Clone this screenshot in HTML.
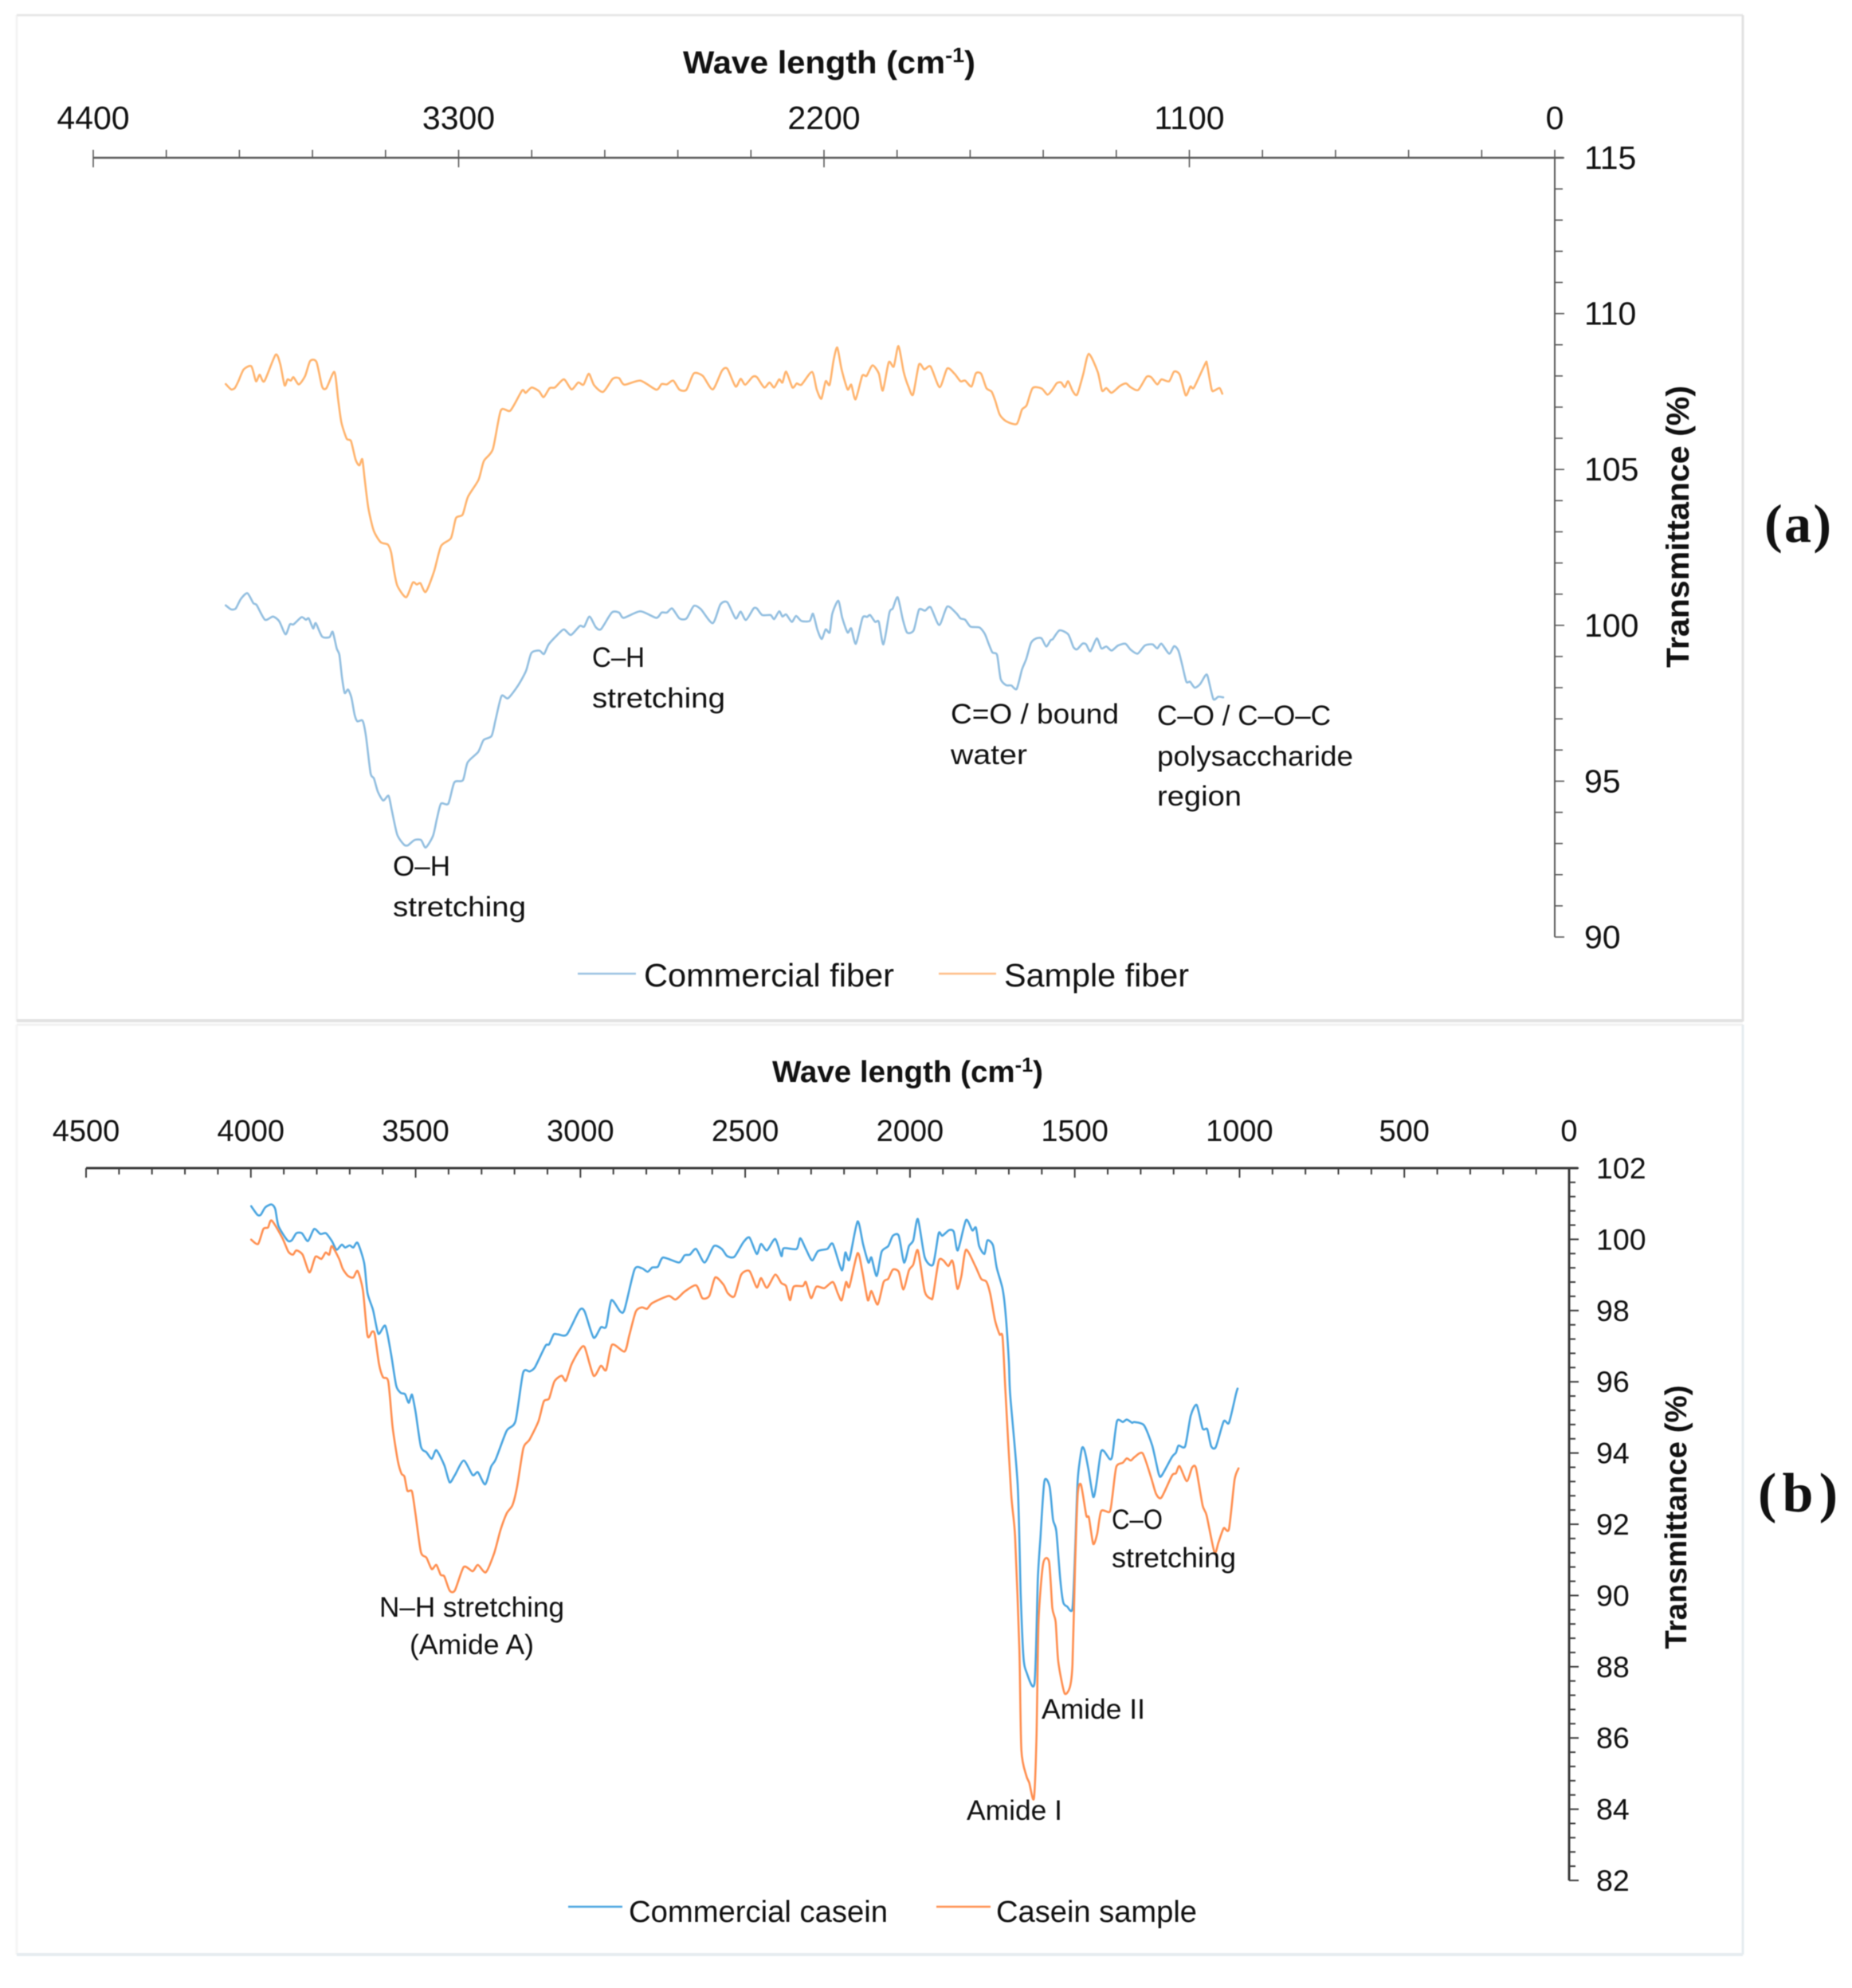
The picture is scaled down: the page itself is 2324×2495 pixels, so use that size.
<!DOCTYPE html>
<html lang="en">
<head>
<meta charset="utf-8">
<title>FTIR transmittance spectra</title>
<style>
html,body{margin:0;padding:0;background:#fff;}
body{width:2324px;height:2495px;overflow:hidden;}
svg{display:block;filter:blur(0.6px);}
text{fill:#111;font-family:"Liberation Sans",Arial,sans-serif;}
.note{font-size:35px;fill:#111;}
.tick-x-a,.tick-y-a{font-size:41px;}
.tick-x-b{font-size:38px;}
.tick-y-b{font-size:37.5px;}
.legend{font-size:41px;}
.legend-b{font-size:38px;}
</style>
</head>
<body>
<svg id="figure" xmlns="http://www.w3.org/2000/svg" width="2324" height="2495" viewBox="0 0 2324 2495">
  <rect x="0" y="0" width="2324" height="2495" fill="#ffffff"/>
  <g stroke-width="3" fill="none">
    <line x1="21" y1="19" x2="21" y2="1282" stroke="#f4f4f4"/>
    <line x1="21" y1="19" x2="2187" y2="19" stroke="#e8e8e8"/>
    <line x1="2187" y1="19" x2="2187" y2="1282" stroke="#e2e2e2"/>
    <line x1="21" y1="1281" x2="2187" y2="1281" stroke="#e2e2e2" stroke-width="4"/>
  </g>
  <g stroke-width="3" fill="none">
    <line x1="21" y1="1286" x2="21" y2="2453" stroke="#f6f6f6"/>
    <line x1="21" y1="1286" x2="2187" y2="1286" stroke="#f2f2f2"/>
    <line x1="2187" y1="1286" x2="2187" y2="2453" stroke="#e6ecf0"/>
    <line x1="21" y1="2453" x2="2187" y2="2453" stroke="#e6ecf0" stroke-width="4"/>
  </g>
  <g id="panel-a"></g>
  <g id="panel-b"></g>

  <text x="857" y="92" font-size="40" font-weight="700" textLength="367" lengthAdjust="spacingAndGlyphs">Wave length (cm<tspan font-size="26" dy="-14">-1</tspan><tspan dy="14">)</tspan></text>
  <text transform="translate(2119,661) rotate(-90)" text-anchor="middle" font-size="40" font-weight="700" textLength="354" lengthAdjust="spacingAndGlyphs">Transmittance (%)</text>
  <text x="2214" y="680" style="font-family:'Liberation Serif',serif" font-size="68" font-weight="700" textLength="84" lengthAdjust="spacing">(a)</text>

  <text class="note" x="493" y="1099" textLength="72" lengthAdjust="spacingAndGlyphs">O–H</text>
  <text class="note" x="493" y="1150" textLength="167" lengthAdjust="spacingAndGlyphs">stretching</text>
  <text class="note" x="743" y="837" textLength="66" lengthAdjust="spacingAndGlyphs">C–H</text>
  <text class="note" x="743" y="888" textLength="167" lengthAdjust="spacingAndGlyphs">stretching</text>
  <text class="note" x="1193" y="908" textLength="211" lengthAdjust="spacingAndGlyphs">C=O / bound</text>
  <text class="note" x="1193" y="959" textLength="96" lengthAdjust="spacingAndGlyphs">water</text>
  <text class="note" x="1452" y="910" textLength="218" lengthAdjust="spacingAndGlyphs">C–O / C–O–C</text>
  <text class="note" x="1452" y="961" textLength="246" lengthAdjust="spacingAndGlyphs">polysaccharide</text>
  <text class="note" x="1452" y="1011" textLength="106" lengthAdjust="spacingAndGlyphs">region</text>

  <line x1="725" y1="1222" x2="798" y2="1222" stroke="#9cc3e2" stroke-width="2.5"/>
  <text class="legend" x="808" y="1238" textLength="314" lengthAdjust="spacingAndGlyphs">Commercial fiber</text>
  <line x1="1178" y1="1222" x2="1250" y2="1222" stroke="#ffbe88" stroke-width="2.5"/>
  <text class="legend" x="1260" y="1238" textLength="232" lengthAdjust="spacingAndGlyphs">Sample fiber</text>

  <text x="969" y="1358" font-size="38" font-weight="700" textLength="340" lengthAdjust="spacingAndGlyphs">Wave length (cm<tspan font-size="25" dy="-13">-1</tspan><tspan dy="13">)</tspan></text>
  <text transform="translate(2116,1904) rotate(-90)" text-anchor="middle" font-size="38" font-weight="700" textLength="331" lengthAdjust="spacingAndGlyphs">Transmittance (%)</text>
  <text x="2206" y="1897" style="font-family:'Liberation Serif',serif" font-size="70" font-weight="700" textLength="100" lengthAdjust="spacing">(b)</text>

  <text class="note" x="476" y="2029" textLength="232" lengthAdjust="spacingAndGlyphs">N–H stretching</text>
  <text class="note" x="514" y="2076" textLength="156" lengthAdjust="spacingAndGlyphs">(Amide A)</text>
  <text class="note" x="1395" y="1919" textLength="64" lengthAdjust="spacingAndGlyphs">C–O</text>
  <text class="note" x="1395" y="1967" textLength="156" lengthAdjust="spacingAndGlyphs">stretching</text>
  <text class="note" x="1307" y="2157" textLength="130" lengthAdjust="spacingAndGlyphs">Amide II</text>
  <text class="note" x="1213" y="2284" textLength="120" lengthAdjust="spacingAndGlyphs">Amide I</text>

  <line x1="713" y1="2393" x2="781" y2="2393" stroke="#4aa5e0" stroke-width="2.5"/>
  <text class="legend-b" x="789" y="2412" textLength="325" lengthAdjust="spacingAndGlyphs">Commercial casein</text>
  <line x1="1175" y1="2393" x2="1243" y2="2393" stroke="#ff9050" stroke-width="2.5"/>
  <text class="legend-b" x="1250" y="2412" textLength="252" lengthAdjust="spacingAndGlyphs">Casein sample</text>
</svg>

<script>
/* ---------- Panel (a) data ---------- */
const fiberXTickLabels = [4400, 3300, 2200, 1100, 0];
const fiberYTickLabels = [115, 110, 105, 100, 95, 90];

const sampleFiberWave = [4001,3985,3974,3963,3947,3924,3910,3899,3885,3851,3837,3824,3815,3805,3797,3781,3762,3747,3728,3711,3698,3674,3663,3653,3637,3624,3610,3599,3590,3583,3572,3556,3535,3513,3503,3494,3484,3458,3438,3426,3415,3399,3374,3353,3323,3308,3288,3272,3240,3224,3197,3173,3144,3109,3098,3080,3058,3044,3026,3010,2983,2960,2940,2924,2908,2892,2865,2836,2817,2801,2753,2705,2689,2673,2654,2635,2614,2592,2565,2535,2507,2491,2466,2451,2437,2415,2402,2380,2364,2350,2335,2325,2314,2295,2282,2268,2236,2222,2208,2195,2183,2171,2160,2147,2129,2118,2105,2085,2072,2054,2035,2023,2005,1990,1976,1960,1946,1932,1914,1898,1879,1852,1829,1807,1789,1775,1756,1743,1727,1711,1695,1684,1671,1652,1620,1604,1590,1572,1545,1527,1513,1499,1486,1475,1465,1451,1438,1420,1403,1376,1363,1350,1334,1309,1291,1277,1254,1229,1215,1197,1184,1161,1146,1129,1111,1097,1086,1052,1047,1033,1025,1009,1001];
const sampleFiberT = [107.74,107.57,107.61,107.83,108.21,108.31,107.83,108.04,107.83,108.68,108.38,107.70,107.89,107.85,107.96,107.73,108.00,108.48,108.45,107.66,107.61,108.13,107.27,106.51,105.99,105.91,105.31,105.13,105.33,104.72,103.78,103.05,102.67,102.59,102.33,101.73,101.26,100.90,101.37,101.31,101.35,101.07,101.73,102.54,102.80,103.44,103.55,104.12,104.67,105.27,105.65,106.89,106.89,107.53,107.46,107.63,107.51,107.32,107.61,107.63,107.89,107.57,107.79,107.72,108.07,107.70,107.49,107.91,107.93,107.72,107.85,107.56,107.74,107.73,107.85,107.56,107.56,108.08,108.00,107.57,108.17,108.23,107.66,107.91,107.72,107.97,107.96,107.63,107.79,107.63,107.89,107.79,108.14,107.63,107.76,107.72,108.13,107.57,107.27,107.83,107.72,108.51,108.91,108.21,107.57,107.72,107.25,108.0,108.0,108.34,108.08,107.53,108.44,108.30,108.96,108.13,107.66,107.40,108.37,108.21,108.30,107.64,108.24,108.07,107.83,107.85,107.66,108.08,108.07,107.61,107.49,107.19,106.76,106.55,106.46,106.92,107.06,107.61,107.6,107.40,107.55,107.77,107.79,107.64,107.83,107.51,107.40,108.04,108.71,108.13,107.53,107.61,107.46,107.68,107.76,107.64,107.55,107.97,107.96,107.73,107.89,107.83,108.14,108.04,107.38,107.66,107.63,108.40,108.38,107.57,107.53,107.61,107.43];

const commercialFiberWave = [4001,3985,3971,3956,3936,3918,3908,3883,3859,3840,3821,3808,3797,3773,3760,3751,3738,3730,3711,3689,3679,3667,3659,3651,3643,3633,3623,3613,3605,3589,3579,3565,3555,3543,3527,3511,3501,3485,3465,3453,3433,3413,3399,3377,3365,3353,3331,3313,3287,3273,3241,3225,3201,3189,3171,3151,3121,3097,3081,3057,3043,3029,3003,2983,2962,2935,2922,2906,2887,2871,2839,2817,2803,2753,2705,2689,2673,2657,2635,2614,2592,2571,2535,2512,2491,2466,2451,2435,2412,2402,2386,2361,2350,2335,2325,2314,2297,2284,2268,2243,2233,2220,2207,2195,2183,2175,2157,2145,2129,2118,2104,2084,2070,2061,2046,2035,2021,2003,1993,1978,1963,1950,1930,1914,1896,1879,1853,1829,1802,1789,1775,1759,1732,1716,1705,1693,1679,1668,1652,1636,1620,1604,1591,1577,1561,1545,1531,1518,1511,1491,1465,1449,1438,1422,1411,1398,1379,1365,1350,1334,1315,1293,1277,1256,1234,1211,1197,1184,1161,1146,1133,1122,1109,1098,1084,1068,1052,1045,1028,1013,998];
const commercialFiberT = [100.64,100.51,100.54,100.84,101.03,100.71,100.65,100.18,100.28,100.13,99.71,100.03,100.03,100.26,100.18,100.22,99.90,100.07,99.64,99.62,99.79,99.26,99.05,98.32,97.83,97.94,97.69,97.13,96.92,96.94,96.45,95.26,95.09,94.66,94.38,94.53,94.06,93.29,92.97,92.94,93.11,93.11,92.87,93.25,93.81,94.28,94.28,94.96,95.03,95.6,95.94,96.32,96.45,96.96,97.73,97.66,98.07,98.54,99.11,99.19,99.08,99.39,99.69,99.87,99.69,99.98,99.96,100.28,99.94,99.88,100.41,100.41,100.24,100.45,100.24,100.41,100.41,100.54,100.22,100.22,100.62,100.52,100.07,100.67,100.74,100.22,100.44,100.17,100.54,100.54,100.33,100.33,100.20,100.45,100.28,100.35,100.11,100.30,100.14,100.14,100.37,99.86,99.56,99.87,99.77,100.37,100.79,100.24,99.77,99.90,99.41,100.24,100.27,100.33,100.11,100.11,99.39,100.41,100.54,100.90,100.20,99.77,99.84,100.50,100.47,100.58,100.01,100.60,100.39,100.22,100.18,99.96,99.93,99.73,99.43,99.13,99.05,98.28,98.08,98.07,97.96,98.58,98.92,99.43,99.58,99.58,99.32,99.52,99.56,99.84,99.71,99.30,99.23,99.41,99.39,99.17,99.58,99.26,99.32,99.19,99.35,99.41,99.22,99.09,99.35,99.39,99.26,99.41,99.09,99.33,99.19,98.75,98.19,98.19,98.0,98.11,98.39,98.37,97.64,97.71,97.69];

/* ---------- Panel (b) data ---------- */
const caseinXTickLabels = [4500, 4000, 3500, 3000, 2500, 2000, 1500, 1000, 500, 0];
const caseinYTickLabels = [102, 100, 98, 96, 94, 92, 90, 88, 86, 84, 82];

const commercialCaseinWave = [3999,3980,3970,3956,3937,3926,3916,3889,3876,3862,3845,3827,3808,3789,3772,3754,3740,3724,3714,3700,3689,3676,3656,3646,3629,3613,3592,3575,3559,3545,3532,3521,3511,3500,3484,3467,3451,3437,3413,3397,3381,3354,3327,3311,3289,3271,3257,3224,3197,3174,3154,3138,3106,3095,3081,3068,3041,3003,2987,2960,2938,2922,2906,2879,2866,2836,2814,2796,2782,2765,2749,2701,2684,2668,2649,2623,2595,2571,2555,2533,2506,2487,2465,2452,2434,2409,2390,2383,2344,2333,2316,2297,2279,2251,2234,2207,2196,2184,2159,2142,2126,2117,2101,2086,2066,2052,2034,2018,2003,1990,1976,1955,1930,1913,1902,1881,1867,1855,1830,1811,1800,1790,1774,1765,1748,1737,1719,1710,1700,1696,1673,1664,1656,1647,1622,1612,1604,1592,1576,1566,1556,1544,1535,1523,1507,1499,1491,1479,1471,1459,1444,1435,1421,1411,1394,1386,1372,1354,1342,1326,1319,1290,1265,1245,1236,1205,1193,1185,1165,1148,1130,1112,1098,1086,1072,1048,1032,1011,1006];
const commercialCaseinT = [100.93,100.69,100.69,100.90,100.98,100.85,100.37,99.97,99.97,100.17,100.17,99.95,100.29,100.15,100.17,99.95,99.71,99.85,99.77,99.83,99.77,99.90,99.33,98.49,98.01,97.35,97.57,96.81,95.89,95.69,95.65,95.41,95.64,95.14,94.18,94.02,93.84,94.08,93.66,93.18,93.38,93.79,93.38,93.46,93.12,93.62,93.82,94.62,94.90,96.25,96.29,96.41,97.01,97.05,97.33,97.33,97.33,98.01,97.97,97.24,97.53,97.55,98.29,97.97,98.03,99.15,99.19,99.09,99.21,99.23,99.49,99.35,99.55,99.57,99.73,99.35,99.81,99.73,99.53,99.51,99.91,100.05,99.59,99.87,99.69,100.01,99.53,99.75,99.73,100.03,99.73,99.41,99.67,99.73,99.87,99.13,99.63,99.43,100.50,99.85,99.35,99.49,98.97,99.65,99.81,100.10,100.10,99.35,99.81,99.97,100.57,99.49,99.29,100.17,100.10,100.26,100.21,99.69,100.54,100.25,100.33,99.81,99.59,99.97,99.83,99.21,98.61,97.93,96.57,95.65,93.09,90.05,88.30,87.86,87.54,90.45,91.65,93.21,93.05,92.13,91.81,90.45,89.81,89.69,89.64,91.25,93.25,94.11,94.09,93.57,92.77,93.09,94.01,94.05,93.83,93.93,94.89,94.87,94.94,94.85,94.87,94.78,94.21,93.41,93.37,93.89,94.01,94.21,94.19,95.05,95.35,94.69,94.67,94.19,94.17,94.89,94.85,95.65,95.81];

const caseinSampleWave = [3999,3978,3962,3948,3937,3905,3886,3872,3862,3843,3822,3804,3786,3773,3762,3754,3732,3721,3705,3689,3676,3660,3646,3632,3624,3611,3599,3583,3570,3554,3543,3534,3525,3511,3500,3484,3467,3451,3437,3424,3413,3397,3381,3354,3327,3311,3287,3262,3243,3224,3206,3192,3173,3154,3127,3111,3095,3079,3057,3044,3027,3003,2987,2960,2938,2922,2904,2866,2852,2832,2814,2798,2782,2733,2711,2684,2649,2630,2609,2591,2566,2553,2533,2512,2487,2465,2452,2434,2409,2390,2376,2364,2353,2325,2316,2300,2284,2260,2234,2219,2207,2194,2184,2159,2145,2128,2117,2098,2080,2066,2052,2034,2020,2003,1990,1976,1955,1936,1930,1913,1899,1884,1873,1867,1856,1844,1830,1802,1784,1768,1756,1742,1728,1719,1710,1693,1681,1668,1662,1647,1638,1624,1616,1610,1596,1578,1568,1558,1550,1531,1515,1507,1499,1491,1481,1465,1457,1444,1432,1420,1394,1386,1374,1354,1342,1330,1318,1294,1269,1253,1237,1205,1193,1182,1160,1144,1132,1112,1100,1076,1064,1048,1032,1015,1003];
const caseinSampleT = [99.99,99.87,100.29,100.33,100.53,100.05,99.65,99.57,99.69,99.57,99.07,99.51,99.45,99.63,99.57,99.81,99.45,99.17,98.97,98.93,99.11,98.57,97.29,97.41,97.33,96.49,96.13,96.01,94.74,93.78,93.42,93.34,92.94,92.92,92.26,91.22,91.06,90.74,90.86,90.58,90.54,90.14,90.14,90.80,90.68,90.86,90.65,91.18,91.82,92.30,92.54,93.06,94.14,94.38,94.90,95.45,95.53,96.01,96.17,96.03,96.49,96.89,96.97,96.17,96.45,96.33,97.04,96.85,97.29,97.97,98.09,98.05,98.21,98.41,98.31,98.53,98.71,98.35,98.41,98.93,98.73,98.49,98.40,99.01,99.11,98.65,98.91,98.64,99.01,98.77,98.69,98.29,98.67,98.69,98.80,98.35,98.67,98.63,98.80,98.48,98.29,98.80,98.67,99.61,99.13,98.29,98.55,98.17,98.80,98.89,99.15,99.09,98.59,99.13,99.29,99.69,98.53,98.33,98.41,99.39,99.41,99.25,99.41,99.25,98.61,98.97,99.71,99.25,98.89,98.81,98.45,97.73,97.33,97.25,95.69,92.85,91.65,88.46,85.66,84.94,84.74,84.30,86.06,89.26,90.89,90.95,89.65,89.26,88.14,87.26,87.42,88.06,90.85,92.85,93.11,92.25,92.19,91.45,91.73,92.37,92.35,92.77,93.61,93.73,93.85,93.79,93.89,93.99,93.33,92.85,92.75,93.37,93.43,93.63,93.21,93.59,93.57,92.53,92.25,91.21,91.49,91.89,91.87,93.25,93.57];

/* ---------- Axis functions ---------- */
const SVGNS = 'http://www.w3.org/2000/svg';
const xA = w => 1951 - (w / 4400) * (1951 - 117);
const yA = t => 198 + (115 - t) * (1176 - 198) / 25;
const xB = w => 1969 - (w / 4500) * (1969 - 108);
const yB = t => 1466 + (102 - t) * (2360 - 1466) / 20;

function mk(parent, tag, attrs, txt) {
  const n = document.createElementNS(SVGNS, tag);
  for (const k in attrs) n.setAttribute(k, attrs[k]);
  if (txt !== undefined) n.textContent = txt;
  parent.appendChild(n);
  return n;
}

function drawAxisLine(parent, name, x1, y1, x2, y2, stroke, width) {
  const l = mk(parent, 'line', {x1: x1, y1: y1, x2: x2, y2: y2, stroke: stroke, 'stroke-width': width});
  
  
  return l;
}

/* Smooth curve through every data point (Catmull-Rom to cubic Bezier). */
function smoothPath(px, py) {
  const k = 0.12;
  let d = 'M' + px[0].toFixed(1) + ' ' + py[0].toFixed(1);
  for (let i = 0; i < px.length - 1; i++) {
    const a = Math.max(i - 1, 0), c = i + 1, e = Math.min(i + 2, px.length - 1);
    const c1x = px[i] + (px[c] - px[a]) * k, c1y = py[i] + (py[c] - py[a]) * k;
    const c2x = px[c] - (px[e] - px[i]) * k, c2y = py[c] - (py[e] - py[i]) * k;
    d += 'C' + c1x.toFixed(1) + ' ' + c1y.toFixed(1) + ' ' + c2x.toFixed(1) + ' ' + c2y.toFixed(1) + ' ' + px[c].toFixed(1) + ' ' + py[c].toFixed(1);
  }
  return d;
}

function drawSeries(parent, name, xs, ys, fx, fy, color, width) {
  const p = mk(parent, 'path', {d: smoothPath(xs.map(fx), ys.map(fy)), fill: 'none', stroke: color, 'stroke-width': width, 'stroke-linejoin': 'round', 'stroke-linecap': 'round'});
  
  
}

function tickLabel(parent, name, x, y, cls, anchor, value) {
  const t = mk(parent, 'text', {x: x, y: y, class: cls, 'text-anchor': anchor}, String(value));
  
  
}

/* ---------- Panel (a) ---------- */
(function () {
  const g = document.getElementById('panel-a');
  const axisColor = '#5a5a5a';
  const xMax = fiberXTickLabels[0], yTop = fiberYTickLabels[0];
  const yBot = fiberYTickLabels[fiberYTickLabels.length - 1];
  drawAxisLine(g, 'panel-a-x-axis', xA(xMax), yA(yTop), 1962, yA(yTop), axisColor, 2.5);
  drawAxisLine(g, 'panel-a-y-axis', xA(0), yA(yTop), xA(0), yA(yBot), axisColor, 2);
  for (let w = 0; w <= xMax; w += 220) {
    const major = w % 1100 === 0;
    drawAxisLine(g, major ? 'panel-a-x-major-tick' : 'panel-a-x-minor-tick', xA(w), yA(yTop) - 10, xA(w), major ? yA(yTop) + 12 : yA(yTop), axisColor, 1.6);
  }
  for (let t = yBot; t <= yTop; t += 1) {
    const major = t % 5 === 0;
    drawAxisLine(g, major ? 'panel-a-y-major-tick' : 'panel-a-y-minor-tick', xA(0), yA(t), xA(0) + (major ? 12 : 10), yA(t), axisColor, 1.6);
  }
  fiberXTickLabels.forEach(w => tickLabel(g, 'panel-a-x-tick-label', xA(w), 162, 'tick-x-a', 'middle', w));
  fiberYTickLabels.forEach(t => tickLabel(g, 'panel-a-y-tick-label', 1988, yA(t) + 14, 'tick-y-a', 'start', t));
  drawSeries(g, 'sample-fiber-line', sampleFiberWave, sampleFiberT, xA, yA, '#ffb46e', 2.6);
  drawSeries(g, 'commercial-fiber-line', commercialFiberWave, commercialFiberT, xA, yA, '#93bfe0', 2.6);
})();

/* ---------- Panel (b) ---------- */
(function () {
  const g = document.getElementById('panel-b');
  const axisColor = '#3c3c3c';
  const xMax = caseinXTickLabels[0], yTop = caseinYTickLabels[0];
  const yBot = caseinYTickLabels[caseinYTickLabels.length - 1];
  drawAxisLine(g, 'panel-b-x-axis', xB(xMax), yB(yTop), 1980, yB(yTop), axisColor, 3);
  drawAxisLine(g, 'panel-b-y-axis', xB(0), yB(yTop), xB(0), yB(yBot), axisColor, 3);
  for (let w = 0; w <= xMax; w += 100) {
    const major = w % 500 === 0;
    drawAxisLine(g, major ? 'panel-b-x-major-tick' : 'panel-b-x-minor-tick', xB(w), yB(yTop), xB(w), yB(yTop) + (major ? 12 : 8), axisColor, 2);
  }
  for (let i = 0; i <= 50; i += 1) {
    const t = yBot + i * 0.4;
    const major = i % 5 === 0;
    drawAxisLine(g, major ? 'panel-b-y-major-tick' : 'panel-b-y-minor-tick', xB(0), yB(t), xB(0) + (major ? 12 : 8), yB(t), axisColor, 2);
  }
  caseinXTickLabels.forEach(w => tickLabel(g, 'panel-b-x-tick-label', xB(w), 1432, 'tick-x-b', 'middle', w));
  caseinYTickLabels.forEach(t => tickLabel(g, 'panel-b-y-tick-label', 2003, yB(t) + 13, 'tick-y-b', 'start', t));
  drawSeries(g, 'commercial-casein-line', commercialCaseinWave, commercialCaseinT, xB, yB, '#4aa5e0', 2.6);
  drawSeries(g, 'casein-sample-line', caseinSampleWave, caseinSampleT, xB, yB, '#ff8f50', 2.6);
})();
</script>
</body>
</html>
